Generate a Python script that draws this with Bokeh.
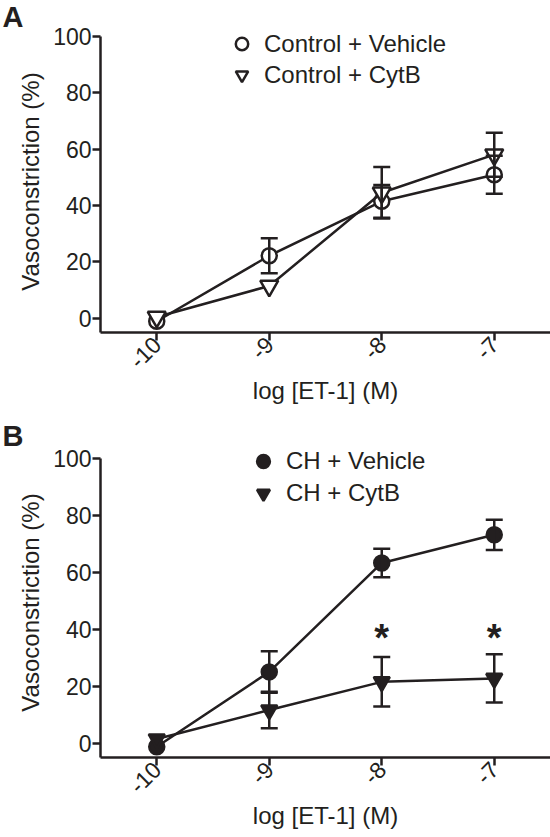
import math
from bokeh.plotting import figure
from bokeh.models import (ColumnDataSource, Range1d, FixedTicker, Whisker, TeeHead,
                          Legend, LegendItem)
from bokeh.layouts import column
from bokeh.embed import file_html
from bokeh.resources import INLINE
from bokeh.core.properties import value

# ---------------- data ----------------
log_et1 = [-10, -9, -8, -7]
x_tick_labels = ["-10", "-9", "-8", "-7"]
y_ticks = [0, 20, 40, 60, 80, 100]

ctrl_vehicle_mean = [-1.0, 22.2, 41.5, 50.9]
ctrl_vehicle_sem = [0.0, 6.2, 5.8, 6.7]
ctrl_cytb_mean = [0.5, 11.5, 44.5, 58.0]
ctrl_cytb_sem = [0.0, 0.0, 9.1, 7.8]

ch_vehicle_mean = [-1.2, 25.1, 63.4, 73.3]
ch_vehicle_sem = [0.0, 7.3, 5.0, 5.3]
ch_cytb_mean = [1.5, 11.7, 21.6, 22.8]
ch_cytb_sem = [0.0, 6.4, 8.7, 8.5]

sig_x = [-8, -7]
sig_y = [38.5, 38.5]
sig_text = ["*", "*"]

# ---------------- style ----------------
INK = "#231f20"
FONT = "Liberation Sans"
LW = 2.5


def make_panel(letter, series, legend_xy, glyph, spacing, height, top, bottom,
               y_top, title_standoff):
    p = figure(width=550, height=height, output_backend="svg", toolbar_location=None,
               x_range=Range1d(-10.5, -6.5), y_range=Range1d(-5, y_top),
               min_border_left=100, min_border_right=0, min_border_top=top,
               min_border_bottom=bottom)
    p.outline_line_color = None
    p.xgrid.visible = False
    p.ygrid.visible = False
    p.background_fill_color = "white"
    p.border_fill_color = "white"

    p.title.text = letter
    p.title.text_font = FONT
    p.title.text_font_size = "29px"
    p.title.text_font_style = "bold"
    p.title.text_color = INK
    p.title.align = "left"
    p.title.offset = -98
    p.title.standoff = title_standoff

    for ax in (p.xaxis[0], p.yaxis[0]):
        ax.axis_line_color = INK
        ax.axis_line_width = LW
        ax.major_tick_line_color = INK
        ax.major_tick_line_width = LW
        ax.major_tick_out = 8
        ax.major_tick_in = 0
        ax.minor_tick_line_color = None
        ax.major_label_text_font = FONT
        ax.major_label_text_font_size = "23px"
        ax.major_label_text_color = INK
        ax.axis_label_text_font = FONT
        ax.axis_label_text_font_size = "24px"
        ax.axis_label_text_font_style = "normal"
        ax.axis_label_text_color = INK
        ax.major_label_standoff = 0

    p.xaxis.ticker = FixedTicker(ticks=log_et1)
    p.xaxis.major_label_overrides = {t: s for t, s in zip(log_et1, x_tick_labels)}
    p.xaxis.major_label_orientation = math.pi / 4
    p.xaxis.axis_label = "log [ET-1] (M)"
    p.xaxis.axis_label_standoff = -2
    p.yaxis.ticker = FixedTicker(ticks=y_ticks)
    p.yaxis.bounds = (-5, 100)
    p.yaxis.axis_label = "Vasoconstriction (%)"
    p.yaxis.axis_label_standoff = 6
    p.yaxis.major_label_standoff = 1

    items = []
    for name, mean, sem, marker, fill, size in series:
        src = ColumnDataSource(dict(x=log_et1, y=mean))
        p.line("x", "y", source=src, line_color=INK, line_width=LW)
        r = p.scatter("x", "y", source=src, marker=marker, size=size,
                      fill_color=fill, line_color=INK, line_width=LW)
        items.append(LegendItem(label=name, renderers=[r]))

    for name, mean, sem, marker, fill, size in series:
        xs, up, lo = [], [], []
        for xv, m, s in zip(log_et1, mean, sem):
            if s > 0:
                xs.append(xv)
                up.append(m + s)
                lo.append(m - s)
        wsrc = ColumnDataSource(dict(x=xs, upper=up, lower=lo))
        w = Whisker(base="x", upper="upper", lower="lower", source=wsrc,
                    dimension="height", line_color=INK, line_width=LW, level="overlay",
                    upper_head=TeeHead(size=17, line_color=INK, line_width=LW),
                    lower_head=TeeHead(size=17, line_color=INK, line_width=LW))
        p.add_layout(w)

    legend = Legend(items=items, location=legend_xy, glyph_width=glyph, glyph_height=glyph,
                    spacing=spacing, padding=0, margin=0, label_standoff=7,
                    label_text_font=FONT, label_text_font_size="24px",
                    label_text_color=INK, border_line_color=None,
                    background_fill_alpha=0)
    p.add_layout(legend)
    return p


pA = make_panel("A", [
    ("Control + Vehicle", ctrl_vehicle_mean, ctrl_vehicle_sem, "circle", "white", 15),
    ("Control + CytB", ctrl_cytb_mean, ctrl_cytb_sem, "inverted_triangle", "white", 18),
], legend_xy=(126, 242), glyph=31, spacing=0, height=418, top=28, bottom=86,
    y_top=102, title_standoff=-4)

pB = make_panel("B", [
    ("CH + Vehicle", ch_vehicle_mean, ch_vehicle_sem, "circle", INK, 15),
    ("CH + CytB", ch_cytb_mean, ch_cytb_sem, "inverted_triangle", INK, 16),
], legend_xy=(147, 248), glyph=32, spacing=-1, height=419, top=29, bottom=80,
    y_top=104, title_standoff=-8)

pB.text(x=sig_x, y=sig_y, text=sig_text, text_font=value(FONT), text_font_size="38px",
        text_font_style="bold", text_color=INK, text_align="center",
        text_baseline="middle", y_offset=4)

layout = column(pA, pB, spacing=0)
open("out.html", "w").write(file_html(layout, INLINE))
